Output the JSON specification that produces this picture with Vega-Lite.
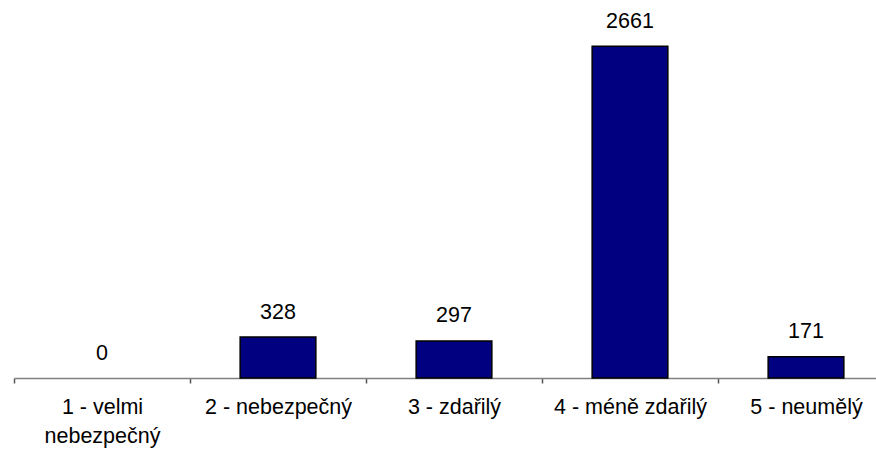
{
  "$schema": "https://vega.github.io/schema/vega-lite/v6.json",
  "width": 880,
  "height": 374,
  "autosize": {"type": "none"},
  "padding": {"left": 14, "top": 4, "right": 0, "bottom": 71},
  "background": "white",
  "config": {"view": {"stroke": null}, "font": "Liberation Sans"},
  "data": {
    "values": [
      {"kategorie": "1 - velmi nebezpečný", "pocet": 0},
      {"kategorie": "2 - nebezpečný", "pocet": 328},
      {"kategorie": "3 - zdařilý", "pocet": 297},
      {"kategorie": "4 - méně zdařilý", "pocet": 2661},
      {"kategorie": "5 - neumělý", "pocet": 171}
    ]
  },
  "encoding": {
    "x": {
      "field": "kategorie",
      "type": "nominal",
      "sort": ["1 - velmi nebezpečný", "2 - nebezpečný", "3 - zdařilý", "4 - méně zdařilý", "5 - neumělý"],
      "scale": {"paddingInner": 0.57, "paddingOuter": 0.285},
      "axis": {
        "title": null,
        "labelAngle": 0,
        "labelFont": "Liberation Sans",
        "labelFontSize": 21.5,
        "labelColor": "black",
        "labelPadding": 13,
        "labelLineHeight": 29,
        "labelExpr": "datum.value == '1 - velmi nebezpečný' ? ['1 - velmi', 'nebezpečný'] : datum.value",
        "domainColor": "#808080",
        "domainWidth": 1.5,
        "tickColor": "#555555",
        "tickSize": 5,
        "tickWidth": 1.5,
        "tickOffset": -88,
        "labelOffset": 88,
        "grid": false
      }
    },
    "y": {
      "field": "pocet",
      "type": "quantitative",
      "scale": {"domain": [0, 3000], "nice": false},
      "axis": null
    }
  },
  "layer": [
    {
      "transform": [{"filter": "datum.pocet > 0"}],
      "mark": {"type": "bar", "color": "#000080", "stroke": "black", "strokeWidth": 1.5}
    },
    {
      "mark": {"type": "text", "baseline": "alphabetic", "dy": -18.5, "fontSize": 21.5, "font": "Liberation Sans", "color": "black"},
      "encoding": {"text": {"field": "pocet", "type": "quantitative"}}
    }
  ]
}
